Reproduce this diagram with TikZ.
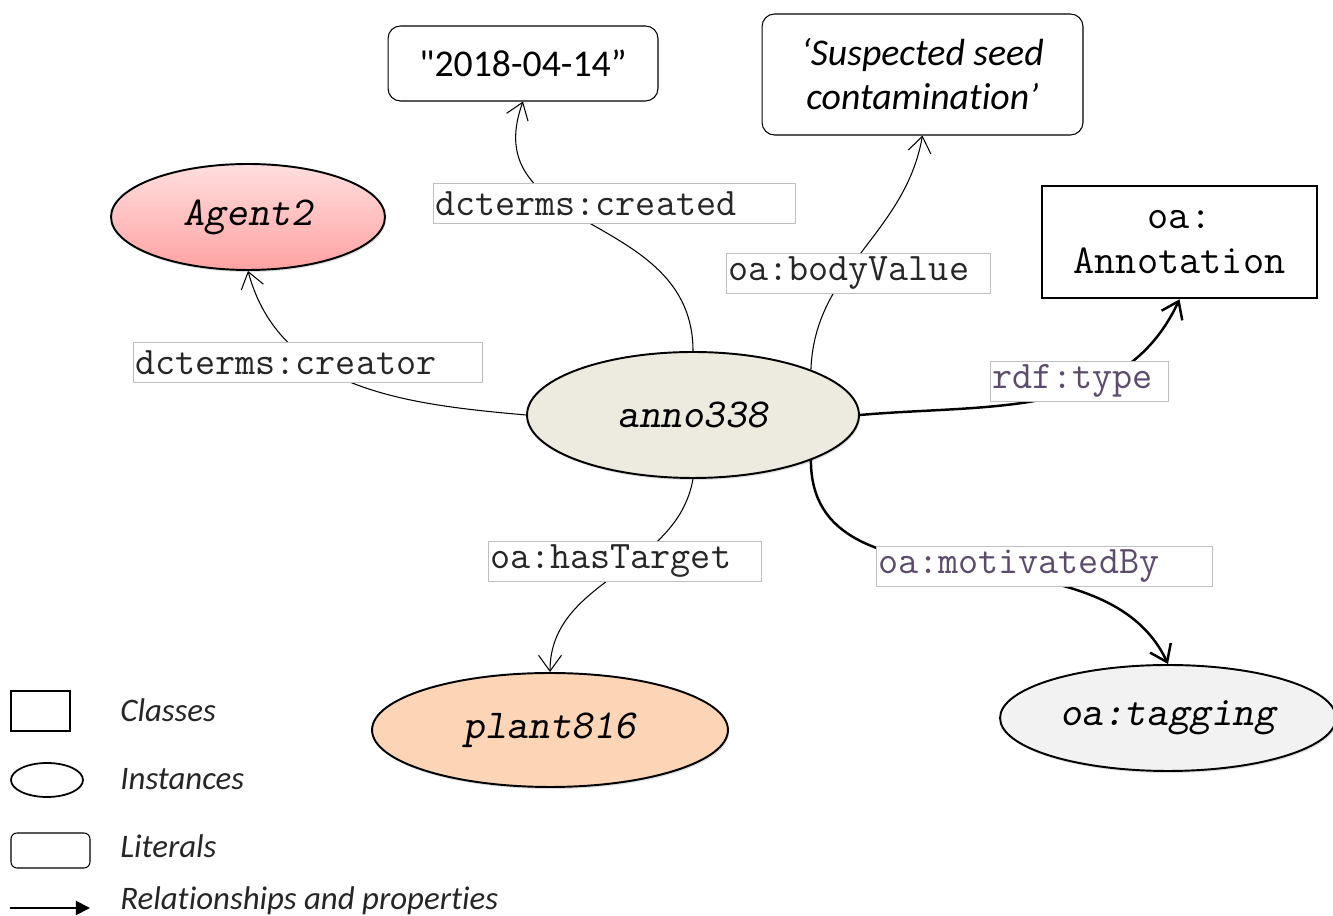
\documentclass[tikz,border=0pt]{standalone}
\usepackage{fontspec}
\newfontfamily\calib[Ligatures=NoCommon]{Carlito}
\usetikzlibrary{shapes.geometric,arrows.meta,shadows}
\definecolor{annofill}{HTML}{EDEBE0}
\definecolor{agenttop}{HTML}{FFDEDE}
\definecolor{agentbot}{HTML}{FFA2A2}
\definecolor{plantfill}{HTML}{FBD5B5}
\definecolor{tagfill}{HTML}{F2F2F2}
\definecolor{propgrey}{HTML}{BFBFBF}
\definecolor{rdfpurple}{HTML}{5B4C6E}
\tikzset{
  instance/.style={ellipse, draw, line width=1.1pt, inner sep=0pt,
    drop shadow={opacity=0.25, shadow xshift=0.6pt, shadow yshift=-1.2pt},
    font=\fontsize{23.4}{27}\selectfont\ttfamily\slshape},
  literal/.style={rectangle, rounded corners=0.25cm, draw, line width=0.6pt, align=center,
    font=\calib\fontsize{21.5}{25}\selectfont},
  classbox/.style={rectangle, draw, line width=1.5pt, align=center,
    font=\fontsize{23.4}{25.5}\selectfont\ttfamily},
  proplabel/.style={rectangle, draw=propgrey, fill=white, anchor=west, inner xsep=1pt,
    inner ysep=0pt, minimum height=0.8cm, align=left, text=black!85,
    font=\fontsize{22.2}{24}\selectfont\ttfamily},
  rel/.style={line width=0.6pt, -{Straight Barb[length=9pt,width=13pt]}},
  strongrel/.style={rel, line width=1.4pt},
  keytext/.style={anchor=base west, inner sep=0pt, text=black!85,
    font=\calib\itshape\fontsize{18.7}{22}\selectfont},
}
\begin{document}
\begin{tikzpicture}[x=0.02cm, y=0.02cm]
    \useasboundingbox (0,0) rectangle (1333,916);
    \node[instance, fill=annofill, minimum width=6.64cm, minimum height=2.52cm] (anno) at (693,501) {anno338};
    \node[instance, top color=agenttop, bottom color=agentbot, minimum width=5.48cm, minimum height=2.12cm] (agent) at (248,699) {Agent2};
    \node[instance, fill=plantfill, minimum width=7.12cm, minimum height=2.28cm] (plant) at (550,186) {plant816};
    \node[instance, fill=tagfill, minimum width=6.72cm, minimum height=2.12cm] (tagging) at (1168,198) {oa:tagging};
    \node[literal, minimum width=5.4cm, minimum height=1.5cm] (date) at (523,852.5) {"2018-04-14”};
    \node[literal, minimum width=6.42cm, minimum height=2.42cm] (comment) at (922.5,841.5) {\itshape ‘Suspected seed\\ \itshape contamination’};
    \node[classbox, minimum width=5.5cm, minimum height=2.24cm] (annoclass) at (1179.5,674) {oa:\\Annotation};

    \draw[rel] (anno.west) to[out=175, in=-75] (agent.south);
    \draw[rel] (anno.north) to[out=90, in=-110, looseness=1.2] (date.south);
    \draw[rel] (anno.21) to[out=88, in=-100] (comment.south);
    \draw[strongrel] (anno.east) to[out=5, in=-115] (annoclass.south);
    \draw[rel] (anno.south) to[out=-100, in=90] (plant.north);
    \draw[strongrel] (anno.-21) to[out=-90, in=115] (tagging.north);

    \node[proplabel, text width=7.17cm] (created) at (433,712.5) {dcterms:created};
    \node[proplabel, text width=6.91cm] (creator) at (133,553.5) {dcterms:creator};
    \node[proplabel, text width=5.21cm] (bodyvalue) at (726,643) {oa:bodyValue};
    \node[proplabel, text width=3.49cm, text=rdfpurple] (rdftype) at (990,535) {rdf:type};
    \node[proplabel, text width=5.39cm] (hastarget) at (488,354.5) {oa:hasTarget};
    \node[proplabel, text width=6.65cm, text=rdfpurple] (motivated) at (876,349.5) {oa:motivatedBy};

    \node[draw, line width=1.2pt, minimum width=1.18cm, minimum height=0.8cm] (keyclass) at (40.5,205) {};
    \node[ellipse, draw, line width=1pt, minimum width=1.44cm, minimum height=0.68cm] (keyinst) at (47,136) {};
    \node[draw, rounded corners=0.12cm, line width=0.6pt, minimum width=1.58cm, minimum height=0.7cm] (keylit) at (50.5,65.5) {};
    \coordinate (keyfrom) at (10,8);
    \coordinate (keyto) at (90,8);
    \draw[line width=1.1pt, -{Triangle[length=8pt,width=8pt]}] (keyfrom) -- (keyto);
    \node[keytext] (keyclasstext) at (120,194) {Classes};
    \node[keytext] (keyinsttext) at (120,126) {Instances};
    \node[keytext] (keylittext) at (120,58) {Literals};
    \node[keytext] (keyreltext) at (120,6) {Relationships and properties};
\end{tikzpicture}
\end{document}
